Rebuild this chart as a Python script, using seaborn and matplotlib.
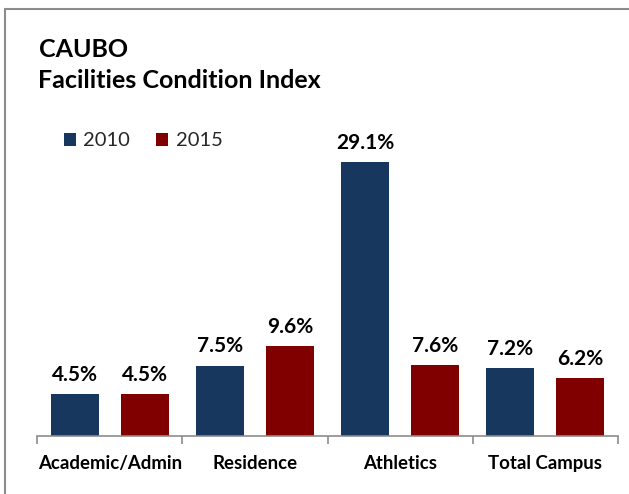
import matplotlib
matplotlib.use("Agg")
import matplotlib.pyplot as plt
from matplotlib.patches import Patch
from matplotlib.lines import Line2D
import seaborn as sns
import pandas as pd

categories = ["Academic/Admin", "Residence", "Athletics", "Total Campus"]
years = ["2010", "2015"]
values_2010 = [4.5, 7.5, 29.1, 7.2]
values_2015 = [4.5, 9.6, 7.6, 6.2]
colors = ["#17375E", "#800000"]

df = pd.DataFrame({
    "category": categories * 2,
    "year": [years[0]] * 4 + [years[1]] * 4,
    "value": values_2010 + values_2015,
})

sns.set_theme(style="white")
plt.rcParams["font.family"] = ["Lato", "DejaVu Sans"]

W, H = 629, 494
fig = plt.figure(figsize=(W / 100, H / 100), dpi=100)
ax = fig.add_axes([37.3 / W, (H - 436) / H, 580.4 / W, 316 / H])

sns.barplot(data=df, x="category", y="value", hue="year", order=categories,
            hue_order=years, palette=colors, width=0.964, gap=0.313,
            saturation=1, ax=ax, legend=False, errorbar=None, linewidth=0)

ax.set_xlim(-0.5, 3.5)
ax.set_ylim(0, 316 / 9.4)
for c in ax.containers:
    ax.bar_label(c, fmt="%.1f%%", padding=6.5, fontsize=15, fontweight="bold",
                 color="#000000")

for s in ["top", "right", "left"]:
    ax.spines[s].set_visible(False)
ax.spines["bottom"].set_color("#8c8c8c")
ax.spines["bottom"].set_linewidth(1.2)
ax.set_yticks([])
ax.set_xlabel("")
ax.set_ylabel("")
ax.set_xticks(range(len(categories)))
ax.set_xticklabels(categories, fontsize=13.4, fontweight="bold", color="#000000")
ax.tick_params(axis="x", which="major", length=0, pad=13.5)
ax.set_xticks([-0.5, 0.5, 1.5, 2.5, 3.5], minor=True)
ax.tick_params(axis="x", which="minor", length=6, width=1.2, color="#8c8c8c",
               bottom=True)

handles = [Patch(facecolor=colors[0], edgecolor="none"),
           Patch(facecolor=colors[1], edgecolor="none")]
fig.legend(handles, years, loc="center left",
           bbox_to_anchor=(64 / W, 1 - 141 / H), ncol=2, frameon=False,
           fontsize=14.5, handlelength=0.6, handleheight=0.6,
           handletextpad=0.36, columnspacing=1.3, borderpad=0,
           borderaxespad=0)

fig.text(38.5 / W, 1 - 56.7 / H, "CAUBO", fontsize=18, fontweight="bold",
         va="baseline", ha="left", color="#000000")
fig.text(38.5 / W, 1 - 88.3 / H, "Facilities Condition Index", fontsize=18,
         fontweight="bold", va="baseline", ha="left", color="#000000")

fig.add_artist(Line2D([5 / W, 1], [1 - 9 / H, 1 - 9 / H], color="#8c8c8c",
                      lw=1.5, transform=fig.transFigure))
fig.add_artist(Line2D([5 / W, 5 / W], [1 - 9 / H, 0], color="#8c8c8c",
                      lw=1.5, transform=fig.transFigure))

fig.savefig("out.png", dpi=100)
